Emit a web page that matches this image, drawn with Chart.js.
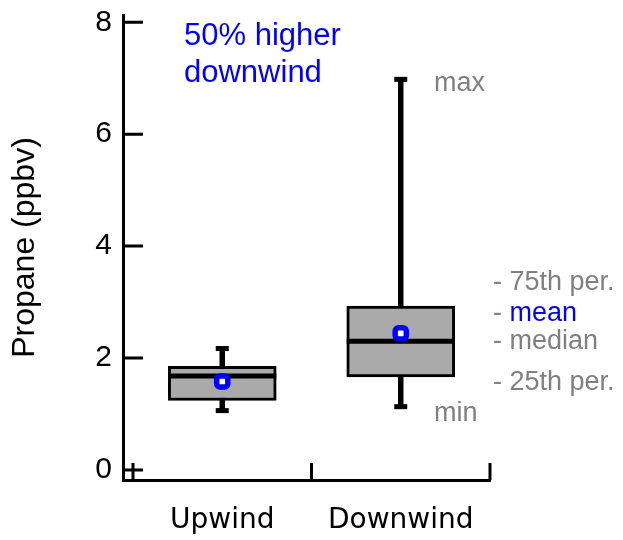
<!DOCTYPE html>
<html>
<head>
<meta charset="utf-8">
<script src="https://cdn.jsdelivr.net/npm/chart.js@4"></script>
<style>
  html, body { margin: 0; padding: 0; background: #fff; }
</style>
</head>
<body>
<canvas id="boxChart" width="623" height="540"></canvas>
<script>
const categories = ["Upwind", "Downwind"];
const minValues = [1.06, 1.13];
const q1Values = [1.24, 1.66];
const medianValues = [1.68, 2.30];
const meanValues = [1.58, 2.44];
const q3Values = [1.85, 2.93];
const maxValues = [2.17, 6.98];
const yTicks = [0, 2, 4, 6, 8];

// category i sits at x = i + 0.5 on a linear axis, boundaries at whole numbers
const centers = categories.map((_, i) => i + 0.5);
const boundaries = [0, ...categories.map((_, i) => i + 1)];

const whiskerPoints = [];
centers.forEach((x, i) => {
  whiskerPoints.push({ x, y: minValues[i] }, { x, y: maxValues[i] }, { x, y: null });
});
const capPoints = centers.flatMap((x, i) => [{ x, y: minValues[i] }, { x, y: maxValues[i] }]);

const sans = "'Liberation Sans', Arial, sans-serif";
const dejavu = "'DejaVu Sans', Verdana, sans-serif";

const innerTicks = {
  id: "innerTicks",
  afterDraw(chart) {
    const { ctx, chartArea, scales } = chart;
    ctx.save();
    ctx.strokeStyle = "#000";
    ctx.lineWidth = 3;
    ctx.beginPath();
    yTicks.forEach((v) => {
      const y = scales.y.getPixelForValue(v);
      ctx.moveTo(chartArea.left, y);
      ctx.lineTo(chartArea.left + 20, y);
    });
    boundaries.forEach((v) => {
      const x = scales.x.getPixelForValue(v);
      ctx.moveTo(x, chartArea.bottom);
      ctx.lineTo(x, chartArea.bottom - 17);
    });
    ctx.stroke();
    ctx.restore();
  },
};

const notes = {
  id: "notes",
  afterDraw(chart) {
    const ctx = chart.ctx;
    ctx.save();
    ctx.textBaseline = "alphabetic";
    ctx.textAlign = "left";
    ctx.fillStyle = "#0000ff";
    ctx.font = "31px " + sans;
    ctx.fillText("50% higher", 184, 45);
    ctx.fillText("downwind", 184, 82);

    ctx.font = "27px " + sans;
    ctx.fillStyle = "#808080";
    ctx.fillText("max", 434, 91);
    ctx.fillText("min", 434, 421);
    ctx.fillText("- 75th per.", 493, 290);
    ctx.fillText("- ", 493, 321);
    ctx.fillText("- median", 493, 349);
    ctx.fillText("- 25th per.", 493, 390);
    ctx.fillStyle = "#0000ff";
    ctx.fillText("mean", 493 + ctx.measureText("- ").width, 321);
    ctx.restore();
  },
};

new Chart(document.getElementById("boxChart"), {
  type: "bar",
  data: {
    datasets: [
      {
        type: "line",
        data: whiskerPoints,
        borderColor: "#000",
        borderWidth: 5.5,
        pointRadius: 0,
        spanGaps: false,
        order: 4,
      },
      {
        type: "scatter",
        data: capPoints,
        pointStyle: "line",
        pointRadius: 6.5,
        pointBorderWidth: 5,
        pointBorderColor: "#000",
        borderColor: "#000",
        order: 3,
      },
      {
        type: "bar",
        data: centers.map((x, i) => ({ x, y: [q1Values[i], q3Values[i]] })),
        backgroundColor: "#aaaaaa",
        borderColor: "#000",
        borderWidth: 3,
        borderSkipped: false,
        barThickness: 108,
        order: 2,
      },
      {
        type: "scatter",
        data: centers.map((x, i) => ({ x, y: medianValues[i] })),
        pointStyle: "line",
        pointRadius: 54,
        pointBorderWidth: 5,
        pointBorderColor: "#000",
        borderColor: "#000",
        order: 1,
      },
      {
        type: "scatter",
        data: centers.map((x, i) => ({ x, y: meanValues[i] })),
        pointStyle: "rectRounded",
        pointRadius: 6.5,
        pointBorderWidth: 5.5,
        pointBorderColor: "#0000ff",
        pointBackgroundColor: "#ffffff",
        order: 0,
      },
    ],
  },
  options: {
    responsive: false,
    animation: false,
    layout: { autoPadding: false, padding: { left: 0, top: 15, right: 133, bottom: 0 } },
    plugins: {
      legend: { display: false },
      tooltip: { enabled: false },
    },
    scales: {
      x: {
        type: "linear",
        offset: false,
        min: -0.056,
        max: categories.length,
        afterBuildTicks: (scale) => {
          scale.ticks = centers.map((v) => ({ value: v }));
        },
        afterFit: (scale) => {
          scale.height = 60;
          scale.paddingLeft = 0;
          scale.paddingRight = 0;
        },
        grid: { display: false, drawTicks: false },
        border: { display: true, color: "#000", width: 3 },
        ticks: {
          autoSkip: false,
          maxRotation: 0,
          padding: 24,
          color: "#000",
          font: { family: dejavu, size: 28 },
          callback: (value, index) => categories[index],
        },
      },
      y: {
        min: -0.18,
        max: 8.13,
        afterBuildTicks: (scale) => {
          scale.ticks = yTicks.map((v) => ({ value: v }));
        },
        afterFit: (scale) => {
          scale.width = 123;
          scale.paddingTop = 0;
          scale.paddingBottom = 0;
        },
        grid: { display: false, drawTicks: false },
        border: { display: true, color: "#000", width: 3 },
        ticks: {
          padding: 11,
          color: "#000",
          font: { family: sans, size: 30 },
        },
        title: {
          display: true,
          text: "Propane (ppbv)",
          color: "#000",
          font: { family: sans, size: 32 },
          padding: { top: 6, bottom: 0 },
        },
      },
    },
  },
  plugins: [innerTicks, notes],
});
</script>
</body>
</html>
